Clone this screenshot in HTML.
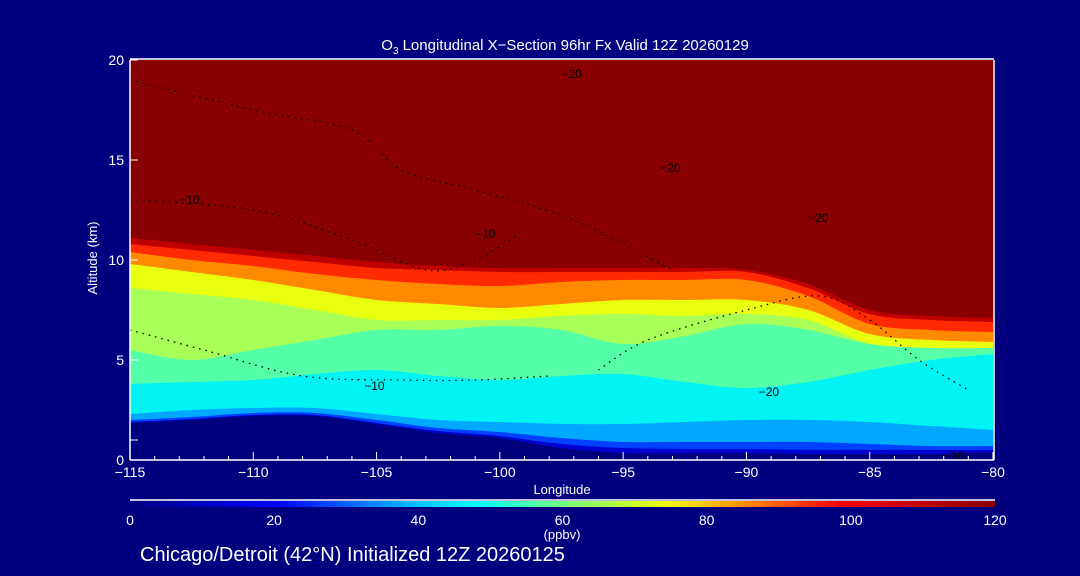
<!DOCTYPE html>
<html><head><meta charset="utf-8"><style>
html,body{margin:0;padding:0;background:#00007f;}
svg{display:block;font-family:"Liberation Sans",sans-serif;}
</style></head><body>
<svg id="c" width="1080" height="576" xmlns="http://www.w3.org/2000/svg">
<rect width="1080" height="576" fill="#00007f"/>
<g id="plot"></g>
<g id="axes"></g>
<text x="565" y="50" fill="#fff" font-size="15" text-anchor="middle">O<tspan font-size="10" dy="4">3</tspan><tspan dy="-4"> Longitudinal X−Section 96hr  Fx Valid 12Z 20260129</tspan></text>
<text x="562" y="494" fill="#fff" font-size="13" text-anchor="middle">Longitude</text>
<text transform="translate(97,258) rotate(-90)" fill="#fff" font-size="13" text-anchor="middle">Altitude (km)</text>
<text x="562" y="539" fill="#fff" font-size="13" text-anchor="middle">(ppbv)</text>
<text x="140" y="561" fill="#fff" font-size="20">Chicago/Detroit (42°N) Initialized 12Z 20260125</text>
</svg>
<script>
const lons = [-115,-112.5,-110,-107.5,-105,-102.5,-100,-97.5,-95,-92.5,-90,-87.5,-85,-82.5,-80];
const terrain = [1.85,2.0,2.2,2.2,1.8,1.35,1.1,0.6,0.35,0.35,0.35,0.3,0.3,0.3,0.4];
const lev20 = [1.9,2.05,2.25,2.25,1.85,1.45,1.2,0.8,0.6,0.55,0.55,0.5,0.5,0.5,0.5];
const lev30 = [2.0,2.15,2.35,2.35,2.0,1.6,1.4,1.1,0.9,0.9,0.9,0.9,0.8,0.7,0.7];
const lev40 = [2.3,2.5,2.6,2.6,2.3,2.0,1.9,1.8,1.8,1.9,2.0,2.0,1.9,1.7,1.5];
const lev50 = [3.8,3.9,4.0,4.3,4.5,4.2,4.0,4.2,4.3,3.9,3.6,3.9,4.5,5.0,5.3];
const lev60 = [5.5,5.0,5.5,6.0,6.5,6.5,6.7,6.5,5.8,6.2,6.8,6.5,5.8,5.6,5.6];
const lev70 = [8.6,8.3,8.0,7.5,7.0,7.0,7.0,7.2,7.3,7.2,7.3,7.0,5.8,5.5,5.4];
const lev80 = [9.8,9.4,9.0,8.5,8.0,7.8,7.6,7.8,8.0,8.0,8.0,7.5,6.3,6.0,5.9];
const lev90 = [10.4,10.0,9.7,9.3,9.0,8.8,8.7,8.9,9.0,9.0,9.0,8.2,6.8,6.5,6.4];
const lev100 = [10.8,10.5,10.2,9.9,9.6,9.5,9.4,9.4,9.4,9.4,9.4,8.6,7.3,7.0,6.9];
const lev110 = [11.1,10.8,10.5,10.2,9.9,9.7,9.6,9.6,9.6,9.6,9.5,8.8,7.5,7.2,7.1];
const xTicks = [-115,-110,-105,-100,-95,-90,-85,-80];
const yTicks = [0,5,10,15,20];
const cbTicks = [0,20,40,60,80,100,120];
const contourA = [[-115,19],[-110,17.5],[-106,16.5],[-104,14.5],[-101,13.5],[-97,12],[-93,9.5]];
const contourB = [[-115,13],[-110,12.5],[-106,11],[-103,9.5],[-101,10],[-99,11.5]];
const contourC = [[-115,6.5],[-112,5.5],[-108,4.2],[-104,4.0],[-101,4.0],[-98,4.2]];
const contourD = [[-96,4.5],[-94,6],[-90,7.5],[-87,8.2],[-85,7],[-83,5],[-81,3.5]];

const X0=130,X1=993,Y0=460,Y1=60;
const sx=l=>X0+(l+115)/35*(X1-X0);
const sy=h=>Y0-(h/20)*(Y0-Y1);
const NS="http://www.w3.org/2000/svg";
const plotG=document.getElementById('plot'), axesG=document.getElementById('axes');
function mk(tag,attrs,parent){const e=document.createElementNS(NS,tag);for(const k in attrs)e.setAttribute(k,attrs[k]);parent.appendChild(e);return e;}
function smoothPath(pts){
  let d='';
  for(let i=0;i<pts.length-1;i++){
    const p0=pts[Math.max(0,i-1)],p1=pts[i],p2=pts[i+1],p3=pts[Math.min(pts.length-1,i+2)];
    const c1=[p1[0]+(p2[0]-p0[0])/6,p1[1]+(p2[1]-p0[1])/6];
    const c2=[p2[0]-(p3[0]-p1[0])/6,p2[1]-(p3[1]-p1[1])/6];
    d+=` C${c1[0].toFixed(1)},${c1[1].toFixed(1)} ${c2[0].toFixed(1)},${c2[1].toFixed(1)} ${p2[0].toFixed(1)},${p2[1].toFixed(1)}`;
  }
  return d;
}

const topRect=mk('rect',{x:X0,y:Y1,width:X1-X0,height:Y0-Y1,fill:'#880000'},plotG);


const bands=[[lev110,'#c00000'],[lev100,'#ff2a00'],[lev90,'#ff8a00'],[lev80,'#e8ff10'],[lev70,'#a8ff58'],[lev60,'#55ffa8'],[lev50,'#00f4f4'],[lev40,'#00a8ff'],[lev30,'#0040ff'],[lev20,'#0000d0'],[terrain,'#00007f']];
bands.forEach(([arr,col],i)=>{
  const pts=arr.map((h,j)=>[sx(lons[j]),sy(h)]);
  let d='M'+X0+','+Y0+' L'+pts[0][0].toFixed(1)+','+pts[0][1].toFixed(1)+smoothPath(pts)+' L'+X1+','+Y0+' Z';
  const p=mk('path',{d:d,fill:col},plotG);
  
  
});
[contourA,contourB,contourC,contourD].forEach((c,i)=>{
  const pts=c.map(q=>[sx(q[0]),sy(q[1])]);
  const p=mk('path',{d:'M'+pts[0][0]+','+pts[0][1]+smoothPath(pts),fill:'none',stroke:'#000','stroke-width':1.3,'stroke-dasharray':'1.5 5'},plotG);
  
  
});
const lbls=[[-113,13,'−10'],[-101,11.3,'−10'],[-105.5,3.7,'−10'],[-97.5,19.3,'−20'],[-93.5,14.6,'−20'],[-87.5,12.1,'−20'],[-89.5,3.4,'−20'],[-82,0.2,'−10']];
lbls.forEach((q,i)=>{
  const t=mk('text',{x:sx(q[0]),y:sy(q[1])+4,'font-size':12,fill:'#000'},plotG);t.textContent=q[2];
  
  
});
const fr=mk('path',{d:`M${X0},${Y1-1} H${X1+1} M${X0},${Y0} H${X1+1} M${X0},${Y1} V${Y0} M${X1+1},${Y1} V${Y0}`,stroke:'#fff','stroke-width':1.5,fill:'none'},axesG);


for(let l=-115;l<=-80;l++){
  const major=xTicks.includes(l);
  const t=mk('line',{x1:sx(l),x2:sx(l),y1:Y0,y2:Y0-(major?8:4),stroke:'#fff'},axesG);
  
  
}
xTicks.forEach(l=>{
  const t=mk('text',{x:sx(l),y:Y0+17,fill:'#fff','font-size':14,'text-anchor':'middle'},axesG);t.textContent=String(l).replace('-','−');
  
  
});
yTicks.forEach(h=>{
  const t=mk('line',{x1:X0,x2:X0+8,y1:sy(h),y2:sy(h),stroke:'#fff'},axesG);
  
  
  const tl=mk('text',{x:X0-6,y:sy(h)+5,fill:'#fff','font-size':14,'text-anchor':'end'},axesG);tl.textContent=h;
  
  
});
const t1=mk('line',{x1:X0,x2:X0+8,y1:sy(1),y2:sy(1),stroke:'#fff'},axesG);


const defs=mk('defs',{},axesG);
const g=mk('linearGradient',{id:'cb',x1:0,x2:1,y1:0,y2:0},defs);
[['0','#00007f'],['0.17','#0000ff'],['0.33','#00c0ff'],['0.4','#00ffff'],['0.5','#70ff80'],['0.62','#f0ff00'],['0.72','#ff8000'],['0.82','#ff0000'],['1','#880000']].forEach(s=>mk('stop',{offset:s[0],'stop-color':s[1]},g));
const cbl=mk('line',{x1:130,x2:995,y1:500,y2:500,stroke:'#fff','stroke-width':1.5},axesG);


const cb=mk('rect',{x:130,y:501,width:865,height:6,fill:'url(#cb)'},axesG);


cbTicks.forEach(v=>{
  const t=mk('text',{x:130+v/120*865,y:525,fill:'#fff','font-size':14,'text-anchor':'middle'},axesG);t.textContent=v;
  
  
});
</script>
</body></html>
